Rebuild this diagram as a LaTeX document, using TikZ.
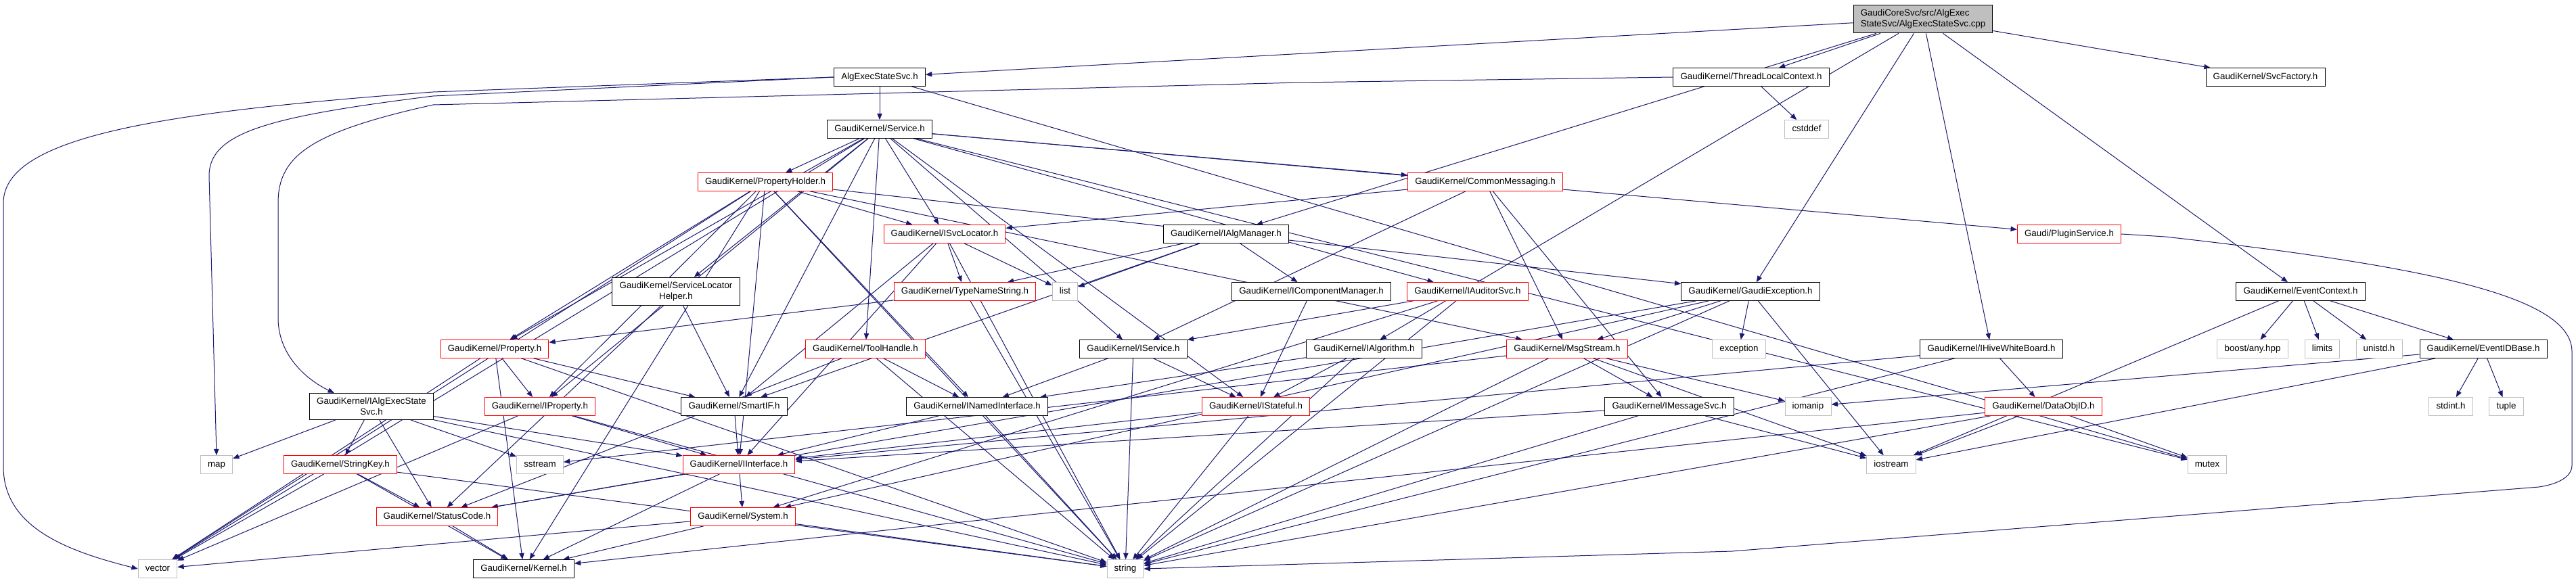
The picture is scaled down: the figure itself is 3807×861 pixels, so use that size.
\documentclass[tikz,border=0pt]{standalone}
\usepackage{fontspec}
\setmainfont{Liberation Sans}
\usetikzlibrary{arrows.meta,backgrounds}
\definecolor{edgeblue}{HTML}{191970}
\definecolor{sysgray}{HTML}{BFBFBF}
\tikzset{
  hbox/.style={rectangle,draw=black,fill=white,line width=0.75pt,inner xsep=8pt,font=\fontsize{10}{12}\selectfont},
  hdr/.style={hbox,minimum height=20pt,inner ysep=0pt,text height=7.5pt,text depth=2pt},
  hdrtwo/.style={hbox,inner ysep=5pt},
  trunc/.style={draw=red},
  sys/.style={draw=sysgray},
  dep/.style={draw=edgeblue,line width=0.75pt,-{Triangle[length=7pt,width=5.5pt]}}
}

\begin{document}
\begin{tikzpicture}
  [x=0.75pt,y=-0.75pt]
  \useasboundingbox (0,0) rectangle (3807,861);

  \node [hdrtwo,align=left,fill=sysgray] (root) at (2842,28) {GaudiCoreSvc/src/AlgExec\\StateSvc/AlgExecStateSvc.cpp};

  \node [hdr] (algsvch) at (1300,114) {AlgExecStateSvc.h};
  \node [hdr] (tlc) at (2588,114) {GaudiKernel/ThreadLocalContext.h};
  \node [hdr] (svcfac) at (3348,114) {GaudiKernel/SvcFactory.h};

  \node [hdr] (service) at (1300,191) {GaudiKernel/Service.h};
  \node [hdr,sys] (cstddef) at (2670,191) {cstddef};

  \node [hdr,trunc] (propholder) at (1131,269) {GaudiKernel/PropertyHolder.h};
  \node [hdr,trunc] (commsg) at (2195,269) {GaudiKernel/CommonMessaging.h};

  \node [hdr,trunc] (isvcloc) at (1396,346) {GaudiKernel/ISvcLocator.h};
  \node [hdr] (ialgmgr) at (1812,346) {GaudiKernel/IAlgManager.h};
  \node [hdr,trunc] (plugin) at (3058,346) {Gaudi/PluginService.h};

  \node [hdrtwo,align=center] (slhelper) at (999,431) {GaudiKernel/ServiceLocator\\Helper.h};
  \node [hdr,trunc] (typename) at (1426,431) {GaudiKernel/TypeNameString.h};
  \node [hdr,sys] (list) at (1574,431) {list};
  \node [hdr] (icompmgr) at (1938,431) {GaudiKernel/IComponentManager.h};
  \node [hdr,trunc] (iauditor) at (2169,431) {GaudiKernel/IAuditorSvc.h};
  \node [hdr] (gexc) at (2587,431) {GaudiKernel/GaudiException.h};
  \node [hdr] (evctx) at (3400,431) {GaudiKernel/EventContext.h};

  \node [hdr,trunc] (prop) at (731,516) {GaudiKernel/Property.h};
  \node [hdr,trunc] (toolh) at (1279,516) {GaudiKernel/ToolHandle.h};
  \node [hdr] (iservice) at (1675,516) {GaudiKernel/IService.h};
  \node [hdr] (ialgo) at (2016,516) {GaudiKernel/IAlgorithm.h};
  \node [hdr,trunc] (msgstream) at (2316,516) {GaudiKernel/MsgStream.h};
  \node [hdr,sys] (exception) at (2570,516) {exception};
  \node [hdr] (ihive) at (2943,516) {GaudiKernel/IHiveWhiteBoard.h};
  \node [hdr,sys] (boostany) at (3329,516) {boost/any.hpp};
  \node [hdr,sys] (limits) at (3432,516) {limits};
  \node [hdr,sys] (unistd) at (3516,516) {unistd.h};
  \node [hdr] (evidbase) at (3670,516) {GaudiKernel/EventIDBase.h};

  \node [hdrtwo,align=center] (ialgexec) at (549,601) {GaudiKernel/IAlgExecState\\Svc.h};
  \node [hdr,trunc] (iprop) at (798,601) {GaudiKernel/IProperty.h};
  \node [hdr] (smartif) at (1085,601) {GaudiKernel/SmartIF.h};
  \node [hdr] (inamed) at (1444,601) {GaudiKernel/INamedInterface.h};
  \node [hdr,trunc] (istateful) at (1856,601) {GaudiKernel/IStateful.h};
  \node [hdr] (imsgsvc) at (2467,601) {GaudiKernel/IMessageSvc.h};
  \node [hdr,sys] (iomanip) at (2672,601) {iomanip};
  \node [hdr,trunc] (dataobjid) at (3020,601) {GaudiKernel/DataObjID.h};
  \node [hdr,sys] (stdint) at (3622,601) {stdint.h};
  \node [hdr,sys] (tuple) at (3704,601) {tuple};

  \node [hdr,sys] (map) at (320,687) {map};
  \node [hdr,trunc] (stringkey) at (503,687) {GaudiKernel/StringKey.h};
  \node [hdr,sys] (sstream) at (798,687) {sstream};
  \node [hdr,trunc] (iinterface) at (1092,687) {GaudiKernel/IInterface.h};
  \node [hdr,sys] (iostream) at (2795,687) {iostream};
  \node [hdr,sys] (mutex) at (3262,687) {mutex};

  \node [hdr,trunc] (statuscode) at (646,764) {GaudiKernel/StatusCode.h};
  \node [hdr,trunc] (system) at (1098,764) {GaudiKernel/System.h};

  \node [hdr,sys] (vector) at (233,841) {vector};
  \node [hdr] (kernel) at (774,841) {GaudiKernel/Kernel.h};
  \node [hdr,sys] (string) at (1663,841) {string};

  \begin{scope}[on background layer]
  \foreach \from/\to in {root/algsvch,root/tlc,root/svcfac,root/ialgmgr,root/gexc,root/ihive,root/evctx,root/ialgo,
    algsvch/service,algsvch/mutex,tlc/cstddef,
    service/propholder,service/commsg,service/isvcloc,service/iauditor,service/iservice,service/toolh,service/slhelper,service/prop,
    service/iprop,service/smartif,service/istateful,service/plugin,service/vector,service/mutex,
    propholder/prop,propholder/iprop,propholder/isvcloc,propholder/msgstream,propholder/gexc,propholder/vector,propholder/string,
    propholder/kernel,propholder/iinterface,propholder/inamed,
    commsg/isvcloc,commsg/iservice,commsg/msgstream,commsg/imsgsvc,
    isvcloc/typename,isvcloc/list,isvcloc/smartif,isvcloc/iinterface,isvcloc/string,
    ialgmgr/typename,ialgmgr/list,ialgmgr/icompmgr,ialgmgr/smartif,
    slhelper/smartif,slhelper/statuscode,typename/prop,typename/string,
    icompmgr/istateful,iauditor/iservice,iauditor/system,iauditor/string,
    gexc/exception,gexc/msgstream,gexc/iostream,gexc/statuscode,gexc/string,gexc/system,
    evctx/boostany,evctx/limits,evctx/unistd,evctx/evidbase,evctx/iostream,
    prop/iprop,prop/smartif,prop/kernel,prop/string,prop/vector,toolh/inamed,toolh/statuscode,toolh/string,
    iservice/inamed,iservice/istateful,iservice/string,ialgo/inamed,ialgo/istateful,ialgo/string,
    msgstream/imsgsvc,msgstream/iomanip,msgstream/iostream,msgstream/sstream,msgstream/string,
    ihive/dataobjid,ihive/iinterface,ihive/string,evidbase/stdint,evidbase/tuple,evidbase/iomanip,evidbase/iostream,
    ialgexec/map,ialgexec/stringkey,ialgexec/statuscode,ialgexec/sstream,ialgexec/iinterface,ialgexec/string,
    iprop/iinterface,iprop/string,iprop/vector,smartif/iinterface,inamed/iinterface,inamed/string,istateful/iinterface,istateful/string,
    imsgsvc/iinterface,imsgsvc/iostream,imsgsvc/string,dataobjid/iostream,dataobjid/mutex,dataobjid/string,dataobjid/kernel,
    stringkey/vector,stringkey/statuscode,stringkey/kernel,stringkey/string,iinterface/system,iinterface/statuscode,iinterface/kernel,
    statuscode/kernel,system/kernel,system/string,system/vector}
    \draw [dep] (\from) -- (\to);

  % long detours round the edges of the graph
  \draw [dep] (algsvch.west) -- (640,136) .. controls (250,165) and (5,200) .. (5,300)
    -- (5,690) .. controls (5,780) and (100,815) .. (vector.west);
  \draw [dep] (algsvch.west) -- (640,142) .. controls (400,172) and (309,195) .. (309,260) -- (map.north);
  \draw [dep] (tlc.west) -- (1920,122) -- (640,155) .. controls (460,195) and (411,230) .. (411,300)
    -- (411,470) .. controls (411,530) and (460,565) .. (ialgexec.160);
  \draw [dep] (plugin.east) -- (3200,350) .. controls (3600,395) and (3801,440) .. (3801,520)
    -- (3801,688) .. controls (3801,705) and (3780,716) .. (3752,720) -- (2560,815) -- (string.east);
  \end{scope}

\end{tikzpicture}
\end{document}
